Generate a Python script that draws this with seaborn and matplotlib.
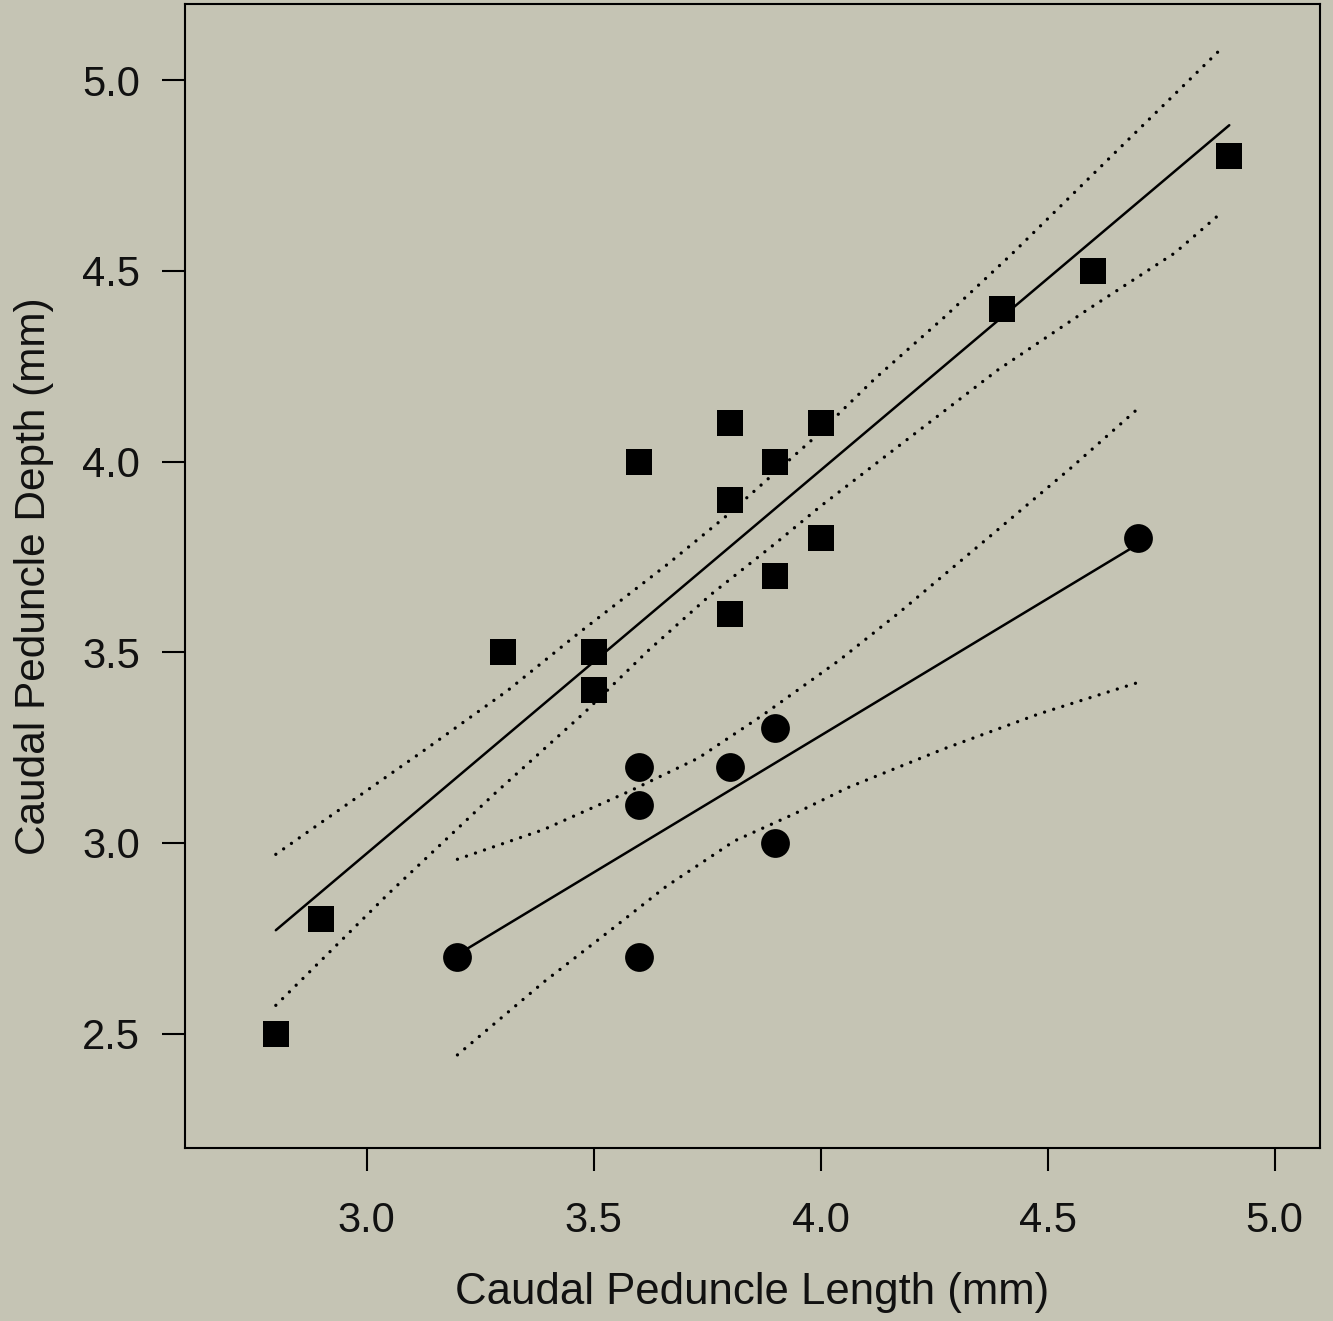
import matplotlib
matplotlib.use("Agg")
import matplotlib.pyplot as plt
import seaborn as sns

# squares (group 1)
sq_length = [2.8, 2.9, 3.3, 3.5, 3.5, 3.6, 3.8, 3.8, 3.8, 3.9, 3.9, 4.0, 4.0, 4.4, 4.6, 4.9]
sq_depth = [2.5, 2.8, 3.5, 3.5, 3.4, 4.0, 4.1, 3.9, 3.6, 4.0, 3.7, 4.1, 3.8, 4.4, 4.5, 4.8]

# circles (group 2)
ci_length = [3.2, 3.6, 3.6, 3.6, 3.8, 3.9, 3.9, 4.7]
ci_depth = [2.7, 3.2, 3.1, 2.7, 3.2, 3.3, 3.0, 3.8]

# regression lines
sq_fit_x = [2.8, 4.9]
sq_fit_y = [2.771, 4.882]
ci_fit_x = [3.2, 4.7]
ci_fit_y = [2.707, 3.784]

# confidence bands (dotted)
sq_up_x = [2.8, 3.03, 3.12, 3.31, 3.47, 3.66, 3.79, 3.98, 4.12, 4.27, 4.42, 4.65, 4.88]
sq_up_y = [2.970, 3.162, 3.237, 3.399, 3.553, 3.728, 3.855, 4.056, 4.218, 4.376, 4.543, 4.812, 5.080]
sq_lo_x = [2.8, 3.05, 3.28, 3.48, 3.62, 3.76, 3.90, 4.0, 4.17, 4.39, 4.59, 4.78, 4.88]
sq_lo_y = [2.574, 2.869, 3.127, 3.342, 3.504, 3.653, 3.785, 3.883, 4.039, 4.240, 4.400, 4.547, 4.650]
ci_up_x = [3.2, 3.39, 3.58, 3.73, 3.87, 4.04, 4.17, 4.38, 4.55, 4.7]
ci_up_y = [2.957, 3.035, 3.136, 3.222, 3.333, 3.478, 3.601, 3.811, 3.982, 4.140]
ci_lo_x = [3.2, 3.39, 3.52, 3.66, 3.81, 3.94, 4.06, 4.27, 4.48, 4.7]
ci_lo_y = [2.444, 2.635, 2.755, 2.886, 3.005, 3.075, 3.145, 3.246, 3.338, 3.421]

xticks = [3.0, 3.5, 4.0, 4.5, 5.0]
yticks = [2.5, 3.0, 3.5, 4.0, 4.5, 5.0]

bg = "#c5c4b4"
sns.set_style("ticks")
plt.rcParams["font.family"] = ["Liberation Sans", "DejaVu Sans"]

fig = plt.figure(figsize=(13.33, 13.21), dpi=100, facecolor=bg)
ax = fig.add_axes([0.1388, 0.131, 0.8515, 0.866])
ax.set_facecolor(bg)

dots = dict(color="black", linewidth=2.4, linestyle=(0, (0.01, 2.85)),
            dash_capstyle="round", estimator=None, sort=False, zorder=2)
for bx, by in [(sq_up_x, sq_up_y), (sq_lo_x, sq_lo_y), (ci_up_x, ci_up_y), (ci_lo_x, ci_lo_y)]:
    sns.lineplot(x=bx, y=by, ax=ax, **dots)

sns.lineplot(x=sq_fit_x, y=sq_fit_y, ax=ax, color="black", linewidth=1.8,
             estimator=None, sort=False, zorder=2)
sns.lineplot(x=ci_fit_x, y=ci_fit_y, ax=ax, color="black", linewidth=1.8,
             estimator=None, sort=False, zorder=2)

sns.scatterplot(x=sq_length, y=sq_depth, ax=ax, marker="s", s=340,
                color="black", linewidth=0, zorder=3)
sns.scatterplot(x=ci_length, y=ci_depth, ax=ax, marker="o", s=430,
                color="black", linewidth=0, zorder=3)

ax.set_xlim(2.6, 5.1)
ax.set_ylim(2.2, 5.2)
ax.set_xticks(xticks)
ax.set_xticklabels([f"{t:.1f}" for t in xticks])
ax.set_yticks(yticks)
ax.set_yticklabels([f"{t:.1f}" for t in yticks])

for sp in ax.spines.values():
    sp.set_linewidth(1.5)
    sp.set_color("black")
ax.tick_params(axis="both", length=16.5, width=1.5, color="black",
               labelsize=30, labelcolor="#111111")
ax.tick_params(axis="x", pad=22)
ax.tick_params(axis="y", pad=16)

ax.set_xlabel("Caudal Peduncle Length (mm)", fontsize=31.5, labelpad=22, color="#111111")
ax.set_ylabel("Caudal Peduncle Depth (mm)", fontsize=30.5, labelpad=20, color="#111111")

fig.savefig("out.png", dpi=100, facecolor=bg)
